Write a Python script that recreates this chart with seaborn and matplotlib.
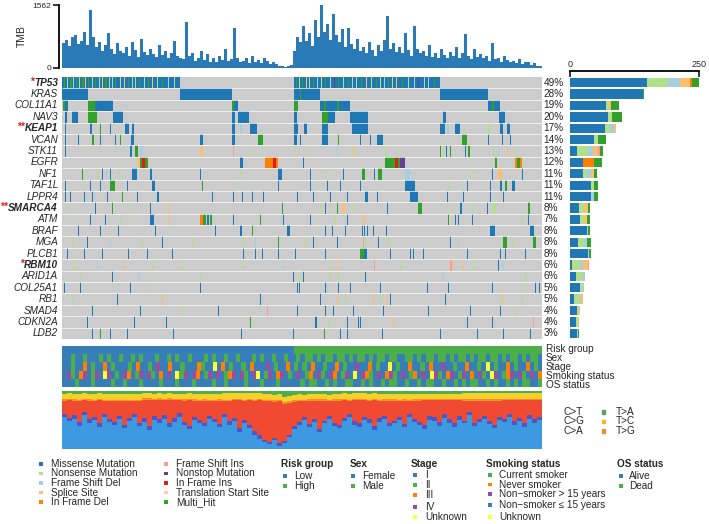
import numpy as np
import matplotlib
matplotlib.use('Agg')
import matplotlib.pyplot as plt
from matplotlib.colors import ListedColormap
from matplotlib.patches import Rectangle
import seaborn as sns

sns.set_theme(style='white')
plt.rcParams['font.family'] = ['Liberation Sans', 'DejaVu Sans']

N = 480  # displayed samples (one per column)

genes = ['TP53', 'KRAS', 'COL11A1', 'NAV3', 'KEAP1', 'VCAN', 'STK11', 'EGFR', 'NF1', 'TAF1L',
         'LPPR4', 'SMARCA4', 'ATM', 'BRAF', 'MGA', 'PLCB1', 'RBM10', 'ARID1A', 'COL25A1',
         'RB1', 'SMAD4', 'CDKN2A', 'LDB2']
pct_labels = ['49%', '28%', '19%', '20%', '17%', '14%', '13%', '12%', '11%', '11%', '11%', '8%',
              '7%', '8%', '8%', '8%', '6%', '6%', '5%', '5%', '4%', '4%', '3%']
stars = {'TP53': '*', 'KEAP1': '**', 'SMARCA4': '**', 'RBM10': '*'}

vc_names = ['Missense Mutation', 'Nonsense Mutation', 'Frame Shift Del', 'Splice Site',
            'In Frame Del', 'Frame Shift Ins', 'Nonstop Mutation', 'In Frame Ins',
            'Translation Start Site', 'Multi_Hit']
vc_codes = ['M', 'N', 'D', 'S', 'I', 'F', 'T', 'R', 'L', 'H']
vc_colors = ['#1F78B4', '#B2DF8A', '#A6CEE3', '#FDBF6F', '#FF7F00', '#FB9A99', '#6A3D9A',
             '#E31A1C', '#FFC9B5', '#33A02C']

# counts per variant class (order of vc_codes) for the right bar chart
bar_counts = {
    'TP53':    [149, 41, 23, 19, 4, 0, 0, 0, 0, 14],
    'KRAS':    [141, 0, 0, 0, 0, 0, 0, 0, 0, 2],
    'COL11A1': [70, 6, 0, 3, 0, 0, 0, 0, 0, 16],
    'NAV3':    [74, 8, 0, 0, 0, 0, 0, 0, 0, 19],
    'KEAP1':   [68, 10, 8, 3, 0, 0, 0, 0, 0, 0],
    'VCAN':    [47, 8, 0, 0, 0, 0, 0, 0, 0, 15],
    'STK11':   [13, 22, 10, 9, 0, 4, 0, 0, 0, 6],
    'EGFR':    [25, 0, 0, 0, 22, 0, 0, 0, 0, 15],
    'NF1':     [25, 7, 8, 6, 0, 0, 0, 0, 0, 6],
    'TAF1L':   [41, 5, 0, 0, 0, 0, 0, 0, 0, 8],
    'LPPR4':   [41, 0, 5, 0, 0, 0, 0, 0, 0, 8],
    'SMARCA4': [17, 11, 0, 6, 0, 0, 0, 0, 0, 5],
    'ATM':     [19, 9, 0, 4, 0, 0, 0, 0, 0, 6],
    'BRAF':    [33, 0, 2, 0, 0, 0, 0, 0, 0, 4],
    'MGA':     [15, 12, 5, 0, 0, 0, 0, 0, 0, 8],
    'PLCB1':   [35, 0, 1, 0, 0, 0, 0, 0, 0, 5],
    'RBM10':   [4, 16, 6, 8, 0, 2, 0, 0, 0, 0],
    'ARID1A':  [12, 13, 4, 0, 0, 0, 0, 0, 0, 0],
    'COL25A1': [20, 5, 2, 0, 0, 0, 0, 0, 0, 0],
    'RB1':     [8, 11, 3, 4, 0, 0, 0, 0, 0, 0],
    'SMAD4':   [13, 5, 0, 2, 0, 0, 0, 0, 0, 0],
    'CDKN2A':  [12, 3, 0, 3, 0, 0, 0, 0, 0, 0],
    'LDB2':    [13, 0, 2, 0, 0, 0, 0, 0, 0, 2],
}

# mutation matrix: (start sample, end sample, variant class); later entries overwrite
mut = {
    'TP53': [(0, 118, 'M'), (232, 378, 'M'),
             (2, 3, 'H'), (5, 6, 'N'), (8, 10, 'H'), (11, 12, 'D'), (14, 15, 'H'), (17, 18, 'N'),
             (20, 22, 'H'), (23, 24, 'S'), (26, 27, 'H'), (30, 31, 'N'), (33, 34, 'H'),
             (37, 38, 'N'), (40, 41, 'S'), (43, 45, 'H'), (47, 48, 'N'), (50, 51, 'D'),
             (53, 54, 'H'), (58, 59, 'N'), (62, 63, 'S'), (66, 67, 'H'), (70, 71, 'D'),
             (73, 74, 'N'), (77, 78, 'H'), (82, 83, 'N'), (86, 87, 'H'), (90, 91, 'S'),
             (95, 96, 'N'), (100, 101, 'H'), (106, 107, 'D'), (112, 113, 'N'),
             (234, 235, 'H'), (237, 238, 'N'), (240, 241, 'H'), (244, 245, 'S'), (247, 248, 'N'),
             (251, 252, 'H'), (255, 256, 'D'), (259, 260, 'N'), (263, 264, 'H'), (268, 269, 'N'),
             (272, 273, 'T'), (276, 277, 'H'), (281, 282, 'N'), (286, 287, 'H'), (290, 291, 'D'),
             (294, 295, 'N'), (299, 300, 'H'), (304, 305, 'S'), (309, 310, 'N'), (314, 315, 'H'),
             (318, 319, 'N'), (322, 323, 'D'), (326, 327, 'H'), (330, 331, 'N'), (334, 335, 'S'),
             (340, 341, 'H'), (346, 347, 'N'), (352, 353, 'D'), (356, 357, 'T'), (362, 363, 'N'),
             (366, 367, 'D'), (372, 373, 'H')],
    'KRAS': [(0, 26, 'M'), (118, 170, 'M'), (232, 258, 'M'), (378, 426, 'M'), (238, 239, 'H')],
    'COL11A1': [(1, 3, 'H'), (3, 6, 'M'), (26, 33, 'H'), (33, 51, 'M'), (170, 172, 'H'),
                (172, 176, 'M'), (232, 236, 'H'), (258, 288, 'M'), (262, 264, 'H'),
                (275, 277, 'H'), (426, 438, 'M'), (430, 432, 'H')],
    'NAV3': [(3, 5, 'M'), (10, 16, 'M'), (26, 35, 'H'), (51, 61, 'M'), (170, 173, 'M'),
             (176, 187, 'M'), (232, 235, 'M'), (260, 266, 'H'), (266, 273, 'M'),
             (288, 306, 'M'), (381, 384, 'M'), (437, 443, 'M')],
    'KEAP1': [(3, 4, 'M'), (28, 30, 'M'), (38, 39, 'H'), (48, 49, 'M'), (63, 67, 'M'),
              (70, 72, 'M'), (170, 173, 'M'), (178, 180, 'D'), (188, 195, 'M'), (232, 236, 'M'),
              (242, 245, 'M'), (260, 266, 'M'), (290, 306, 'M'), (378, 383, 'M'), (385, 387, 'D'),
              (393, 398, 'M'), (426, 428, 'N'), (438, 441, 'M'), (445, 448, 'M')],
    'VCAN': [(3, 4, 'M'), (16, 17, 'M'), (30, 32, 'H'), (38, 39, 'M'), (53, 54, 'M'),
             (58, 59, 'H'), (69, 72, 'M'), (138, 141, 'M'), (170, 173, 'M'), (196, 201, 'H'),
             (232, 235, 'M'), (238, 239, 'M'), (260, 266, 'M'), (276, 277, 'H'), (298, 299, 'M'),
             (308, 309, 'M'), (315, 321, 'M'), (400, 405, 'H'), (426, 427, 'M'), (440, 441, 'M'),
             (448, 449, 'M')],
    'STK11': [(3, 4, 'M'), (68, 70, 'M'), (73, 76, 'H'), (78, 81, 'D'), (138, 141, 'S'),
              (171, 172, 'F'), (188, 189, 'N'), (200, 201, 'N'), (233, 234, 'N'), (245, 246, 'N'),
              (275, 276, 'D'), (290, 291, 'S'), (293, 294, 'N'), (323, 324, 'N'), (378, 379, 'H'),
              (381, 382, 'N'), (384, 385, 'M'), (388, 389, 'H'), (403, 404, 'M'), (406, 408, 'H'),
              (431, 432, 'N'), (436, 437, 'D'), (445, 446, 'S'), (453, 454, 'N')],
    'EGFR': [(76, 78, 'S'), (78, 80, 'H'), (80, 83, 'R'), (83, 86, 'H'), (178, 181, 'M'),
             (203, 211, 'I'), (211, 214, 'R'), (214, 216, 'I'), (241, 242, 'M'), (323, 333, 'H'),
             (333, 336, 'R'), (336, 338, 'H'), (338, 343, 'T'), (433, 435, 'H'), (453, 455, 'I'),
             (455, 458, 'H'), (458, 460, 'I')],
    'NF1': [(20, 21, 'H'), (35, 36, 'N'), (40, 41, 'M'), (44, 45, 'D'), (48, 49, 'M'),
            (57, 58, 'N'), (70, 75, 'M'), (88, 90, 'M'), (138, 139, 'M'), (178, 179, 'N'),
            (216, 220, 'M'), (248, 249, 'M'), (264, 265, 'N'), (281, 282, 'M'), (300, 303, 'H'),
            (312, 313, 'M'), (316, 320, 'H'), (343, 348, 'D'), (411, 412, 'N'), (430, 431, 'M'),
            (436, 440, 'S'), (460, 461, 'M')],
    'TAF1L': [(3, 4, 'M'), (28, 29, 'M'), (38, 39, 'M'), (48, 53, 'H'), (65, 66, 'M'),
              (90, 93, 'M'), (140, 141, 'H'), (173, 174, 'N'), (216, 217, 'M'), (248, 249, 'M'),
              (265, 266, 'M'), (278, 279, 'M'), (298, 299, 'M'), (343, 353, 'M'), (386, 387, 'N'),
              (405, 406, 'M'), (428, 429, 'M'), (438, 440, 'M'), (443, 445, 'H'), (450, 453, 'M')],
    'LPPR4': [(3, 4, 'M'), (8, 9, 'M'), (22, 23, 'M'), (30, 31, 'M'), (45, 46, 'M'),
              (60, 61, 'H'), (75, 76, 'M'), (95, 97, 'M'), (150, 151, 'M'), (171, 172, 'M'),
              (180, 181, 'M'), (190, 191, 'M'), (201, 202, 'M'), (235, 236, 'M'), (251, 252, 'M'),
              (268, 269, 'M'), (285, 286, 'M'), (303, 306, 'M'), (315, 316, 'M'), (348, 356, 'M'),
              (385, 386, 'M'), (401, 402, 'M'), (428, 429, 'M'), (441, 442, 'M')],
    'SMARCA4': [(8, 9, 'N'), (33, 34, 'M'), (50, 51, 'H'), (68, 69, 'N'), (88, 89, 'M'),
                (106, 107, 'S'), (220, 221, 'H'), (258, 259, 'N'), (263, 264, 'M'),
                (275, 276, 'H'), (280, 283, 'S'), (293, 294, 'N'), (325, 326, 'M'),
                (356, 360, 'H'), (391, 392, 'N'), (398, 400, 'M'), (410, 411, 'N'),
                (425, 426, 'M'), (431, 434, 'N'), (466, 468, 'H')],
    'ATM': [(28, 29, 'M'), (43, 44, 'M'), (58, 59, 'N'), (88, 92, 'M'), (106, 107, 'S'),
            (138, 141, 'I'), (141, 144, 'H'), (145, 147, 'M'), (148, 150, 'H'), (171, 172, 'M'),
            (198, 199, 'H'), (221, 222, 'M'), (248, 249, 'M'), (273, 274, 'N'), (285, 286, 'M'),
            (301, 303, 'S'), (386, 387, 'H'), (393, 394, 'M'), (396, 397, 'M'), (410, 411, 'M'),
            (460, 461, 'N'), (466, 467, 'M')],
    'BRAF': [(16, 17, 'M'), (38, 39, 'M'), (56, 57, 'M'), (93, 94, 'M'), (153, 154, 'M'),
             (178, 180, 'M'), (190, 191, 'H'), (225, 228, 'M'), (263, 264, 'M'), (270, 271, 'M'),
             (283, 284, 'M'), (300, 301, 'M'), (302, 303, 'M'), (305, 306, 'M'), (311, 312, 'M'),
             (324, 325, 'M'), (428, 433, 'M'), (468, 472, 'M')],
    'MGA': [(10, 11, 'N'), (25, 26, 'M'), (48, 49, 'D'), (80, 81, 'N'), (100, 101, 'M'),
            (130, 131, 'N'), (181, 182, 'N'), (193, 194, 'D'), (216, 217, 'H'), (243, 244, 'N'),
            (251, 252, 'M'), (275, 276, 'M'), (301, 302, 'F'), (303, 304, 'N'), (316, 317, 'M'),
            (326, 327, 'N'), (388, 389, 'M'), (396, 397, 'N'), (441, 445, 'H'), (450, 451, 'N'),
            (471, 474, 'H')],
    'PLCB1': [(5, 6, 'M'), (22, 23, 'M'), (40, 41, 'M'), (66, 67, 'M'), (85, 86, 'M'),
              (110, 111, 'M'), (181, 182, 'M'), (193, 194, 'M'), (200, 201, 'M'), (216, 217, 'M'),
              (233, 234, 'M'), (263, 264, 'M'), (298, 302, 'H'), (302, 305, 'M'), (328, 329, 'M'),
              (348, 349, 'M'), (351, 352, 'M'), (361, 362, 'M'), (405, 406, 'M'), (438, 439, 'M'),
              (443, 444, 'M'), (463, 464, 'M')],
    'RBM10': [(12, 13, 'N'), (35, 36, 'D'), (62, 63, 'S'), (90, 91, 'N'), (120, 121, 'N'),
              (181, 182, 'N'), (221, 222, 'D'), (268, 269, 'N'), (275, 276, 'S'), (312, 313, 'F'),
              (338, 339, 'N'), (388, 390, 'F'), (390, 391, 'S'), (401, 402, 'S'), (411, 412, 'N'),
              (436, 437, 'M'), (441, 442, 'D')],
    'ARID1A': [(18, 19, 'N'), (50, 51, 'M'), (76, 77, 'D'), (138, 139, 'N'), (231, 232, 'M'),
               (238, 239, 'N'), (241, 242, 'M'), (268, 269, 'N'), (276, 277, 'N'), (303, 304, 'M'),
               (380, 381, 'D'), (463, 464, 'N')],
    'COL25A1': [(2, 3, 'M'), (18, 19, 'M'), (68, 69, 'M'), (88, 89, 'N'), (138, 139, 'M'),
                (235, 236, 'M'), (237, 238, 'M'), (263, 264, 'M'), (265, 266, 'D'),
                (276, 277, 'M'), (288, 289, 'M'), (318, 319, 'M'), (365, 366, 'M'),
                (386, 387, 'M'), (430, 431, 'M'), (463, 464, 'N'), (473, 474, 'M'),
                (477, 478, 'M')],
    'RB1': [(10, 11, 'N'), (55, 56, 'M'), (100, 101, 'S'), (198, 199, 'M'), (258, 259, 'M'),
            (275, 276, 'S'), (283, 284, 'N'), (311, 312, 'S'), (318, 319, 'N'), (325, 326, 'S'),
            (328, 329, 'M'), (383, 384, 'M'), (438, 439, 'N'), (440, 441, 'S'), (460, 461, 'N')],
    'SMAD4': [(30, 31, 'M'), (78, 79, 'M'), (120, 121, 'N'), (156, 157, 'M'), (205, 206, 'F'),
              (235, 236, 'M'), (263, 264, 'M'), (271, 272, 'M'), (291, 292, 'M'), (321, 322, 'M'),
              (366, 367, 'M'), (408, 409, 'M'), (438, 439, 'M'), (453, 454, 'N')],
    'CDKN2A': [(25, 26, 'M'), (72, 73, 'M'), (104, 105, 'M'), (188, 189, 'H'), (253, 255, 'M'),
               (266, 267, 'N'), (285, 286, 'M'), (296, 297, 'M'), (298, 299, 'M'), (331, 332, 'S'),
               (405, 406, 'M'), (430, 431, 'M'), (471, 472, 'F')],
    'LDB2': [(30, 31, 'M'), (38, 39, 'H'), (48, 49, 'M'), (65, 66, 'M'), (111, 112, 'M'),
             (179, 180, 'M'), (231, 232, 'M'), (262, 263, 'H'), (278, 279, 'M'), (285, 286, 'M'),
             (320, 321, 'M'), (378, 379, 'M'), (415, 416, 'M'), (441, 442, 'M'), (468, 469, 'M')],
}

# TMB, one value per 3 consecutive samples
tmb = [620, 700, 540, 760, 820, 600, 680, 900, 560, 1450,
       780, 520, 640, 430, 560, 880, 480, 350, 620, 420,
       380, 520, 300, 640, 450, 280, 720, 400, 330, 480,
       350, 270, 560, 310, 420, 260, 380, 680, 300, 260,
       220, 1150, 300, 380, 180, 250, 420, 200, 340, 160,
       240, 150, 300, 200, 460, 180, 220, 980, 260, 140,
       180, 240, 120, 300, 160, 210, 130, 250, 170, 110,
       140, 90, 60, 40, 30, 50, 70, 420, 780, 640,
       1050, 680, 880, 540, 1200, 760, 1560, 900, 1100, 700,
       1350, 820, 640, 960, 520, 1000, 600, 480, 720, 420,
       520, 380, 640, 450, 300, 560, 420, 700, 1300, 480,
       620, 400, 520, 360, 880, 440, 300, 1050, 480, 360,
       420, 300, 560, 280, 380, 240, 460, 320, 260, 400,
       300, 520, 260, 380, 840, 300, 220, 460, 280, 340,
       240, 300, 180, 620, 220, 260, 160, 300, 200, 140,
       180, 120, 220, 100, 160, 140, 80, 120, 60, 40]
tmb_max = 1562

# clinical annotations (each character covers 4 samples)
risk_groups = ['Low', 'High']
risk_sizes = [232, 248]
sex = ("FFMFFMFFFMFMFFMFFMFMFFFMFFMFMFFMFFFMFMFFMFFMFFFMFMFFMFFMFF"
       "MFMMFMFMMFMMFMFMMFMFMMFMMFFMMFMFMMFMMFMFMMFMFMMFMMFMFMMFMFMMF")
stage = ("1121131211312111213112141131121113211U1312112131114121131"
         "21213112113121141131211U12113112131141121131121U1211312113121")
smoking = ("BPCBNPBCPBUPBCBPNBCPBPCBNBPBUCPBPNBCPBPBCNPBPCBPUBCPBNPBCB"
           "PBCNBPCBPNBCPBUBPNCBPBNPCBPBCNBPBUPCBNPBCPBNBPCBUPBCNPBPCBPBN")
os_status = ("AAADAAADAAAADAADAAADAAAADAAADAAADAAAADAADAAAADAAADAAADAAAA"
             "ADADDAADADAADDAADADAADADDAADAADADDAADAADADADDAADADAADADADDAAD")

# transitions / transversions fractions (each value covers 5 samples)
titv_ca = [0.55, 0.48, 0.52, 0.40, 0.58, 0.45, 0.50, 0.38, 0.55, 0.47,
           0.42, 0.52, 0.36, 0.48, 0.55, 0.40, 0.46, 0.33, 0.50, 0.44,
           0.52, 0.38, 0.47, 0.55, 0.42, 0.35, 0.50, 0.45, 0.40, 0.52,
           0.46, 0.38, 0.55, 0.42, 0.48, 0.30, 0.44, 0.36, 0.25, 0.18,
           0.12, 0.08, 0.15, 0.06, 0.10, 0.20,
           0.35, 0.42, 0.50, 0.38, 0.46, 0.30, 0.44, 0.52, 0.40, 0.36,
           0.48, 0.55, 0.42, 0.38, 0.50, 0.45, 0.33, 0.47, 0.52, 0.40,
           0.44, 0.50, 0.38, 0.55, 0.46, 0.42, 0.35, 0.50, 0.48, 0.40,
           0.53, 0.45, 0.38, 0.50, 0.44, 0.58, 0.40, 0.47, 0.52, 0.43,
           0.36, 0.50, 0.46, 0.55, 0.42, 0.48, 0.38, 0.52, 0.45, 0.50]
titv_ct = [0.22, 0.30, 0.25, 0.36, 0.20, 0.32, 0.26, 0.40, 0.22, 0.30,
           0.35, 0.25, 0.42, 0.30, 0.22, 0.38, 0.32, 0.45, 0.27, 0.34,
           0.25, 0.40, 0.30, 0.22, 0.36, 0.44, 0.28, 0.32, 0.38, 0.25,
           0.31, 0.40, 0.22, 0.35, 0.30, 0.48, 0.33, 0.42, 0.52, 0.60,
           0.66, 0.70, 0.62, 0.72, 0.64, 0.55,
           0.42, 0.36, 0.27, 0.40, 0.32, 0.48, 0.34, 0.25, 0.38, 0.42,
           0.30, 0.22, 0.36, 0.40, 0.28, 0.32, 0.45, 0.30, 0.26, 0.38,
           0.34, 0.27, 0.40, 0.22, 0.32, 0.36, 0.43, 0.28, 0.30, 0.38,
           0.24, 0.33, 0.40, 0.28, 0.34, 0.20, 0.38, 0.31, 0.26, 0.35,
           0.42, 0.28, 0.32, 0.23, 0.36, 0.30, 0.40, 0.26, 0.33, 0.28]
titv_cg = [0.06, 0.05, 0.07, 0.05, 0.06, 0.04, 0.05, 0.06, 0.05, 0.07, 0.05, 0.06]
titv_tg = [0.03, 0.02, 0.03, 0.03, 0.02, 0.03, 0.03, 0.02, 0.03, 0.02, 0.03, 0.03]
titv_tc = [0.09, 0.10, 0.08, 0.09, 0.11, 0.09, 0.08, 0.10, 0.09, 0.08, 0.10, 0.09]
titv_colors = {'C>A': '#3E9AE0', 'C>G': '#4B57C9', 'C>T': '#F04B32',
               'T>G': '#F39323', 'T>C': '#F6CF2C', 'T>A': '#4DAF4A'}

annot_colors = ['#377EB8', '#4DAF4A', '#FF7F00', '#984EA3', '#FFFF33']

# ---------------------------------------------------------------- layout helpers
W, H = 709, 524
fig = plt.figure(figsize=(W / 100, H / 100), dpi=100)
fig.patch.set_facecolor('white')


def add_ax(x0, y0, x1, y1):
    return fig.add_axes([x0 / W, 1 - y1 / H, (x1 - x0) / W, (y1 - y0) / H])


def spread(s, n=N):
    s = list(s)
    idx = np.arange(n) * len(s) // n
    return [s[i] for i in idx]


ax_tmb = add_ax(62, 5, 542, 68)
ax_mat = add_ax(62, 77, 542, 339)
ax_bar = add_ax(570, 77, 699, 339)
ax_ann = add_ax(62, 346, 542, 387)
ax_titv = add_ax(62, 391, 542, 449)
ov = add_ax(0, 0, W, H)
ov.set_xlim(0, W)
ov.set_ylim(H, 0)
ov.axis('off')
ov.patch.set_alpha(0)

# ---------------------------------------------------------------- TMB
x_tmb = np.arange(len(tmb)) * (N / len(tmb))
ax_tmb.bar(x_tmb, tmb, width=N / len(tmb), align='edge', color='#2A7AB8', linewidth=0)
ax_tmb.set_xlim(0, N)
ax_tmb.set_ylim(0, tmb_max)
ax_tmb.set_xticks([])
ax_tmb.set_yticks([0, tmb_max])
ax_tmb.set_yticklabels(['0', str(tmb_max)])
for sp in ['top', 'right', 'bottom']:
    ax_tmb.spines[sp].set_visible(False)
ax_tmb.spines['left'].set_position(('outward', 2))
ax_tmb.spines['left'].set_linewidth(1.3)
ax_tmb.spines['left'].set_color('black')
ax_tmb.tick_params(axis='y', direction='out', length=4, width=1.3, pad=1.5, left=True,
                   labelsize=6)
ax_tmb.set_ylabel('TMB', fontsize=7.5, labelpad=4)
ax_tmb.patch.set_alpha(0)

# ---------------------------------------------------------------- oncoprint matrix
code_idx = {c: i + 1 for i, c in enumerate(vc_codes)}
mat = np.zeros((len(genes), N), dtype=int)
for gi, g in enumerate(genes):
    for s, e, c in mut[g]:
        mat[gi, s:e] = code_idx[c]

sns.heatmap(mat, ax=ax_mat, cmap=ListedColormap(['#CCCCCC'] + vc_colors),
            vmin=-0.5, vmax=len(vc_codes) + 0.5, cbar=False,
            xticklabels=False, yticklabels=False)
ax_mat.hlines(np.arange(1, len(genes)), 0, N, colors='white', linewidth=0.5)
ax_mat.set_xlim(0, N)
ax_mat.set_ylim(len(genes), 0)

# gene labels, percentages
row_h = (339 - 77) / len(genes)
for gi, g in enumerate(genes):
    y = 77 + (gi + 0.5) * row_h
    bold = g in stars
    t = ov.text(58, y, g, ha='right', va='center', fontsize=7.2, fontstyle='italic',
                fontweight='bold' if bold else 'normal')
    if bold:
        ov.annotate(stars[g], xy=(0, 0.62), xycoords=t, ha='right', va='center',
                    color='#E0201B', fontsize=7.5, fontweight='bold')
    ov.text(543.5, y, pct_labels[gi], ha='left', va='center', fontsize=7.2)

# ---------------------------------------------------------------- right bar chart
counts = np.array([bar_counts[g] for g in genes], dtype=float)
left = np.zeros(len(genes))
ypos = np.arange(len(genes)) + 0.5
for k in range(len(vc_codes)):
    ax_bar.barh(ypos, counts[:, k], left=left, height=0.82, color=vc_colors[k], linewidth=0)
    left += counts[:, k]
ax_bar.set_xlim(0, 250)
ax_bar.set_ylim(len(genes), 0)
ax_bar.xaxis.tick_top()
ax_bar.set_xticks([0, 250])
ax_bar.set_xticklabels(['0', '250'])
ax_bar.set_yticks([])
for sp in ['left', 'right', 'bottom']:
    ax_bar.spines[sp].set_visible(False)
ax_bar.spines['top'].set_position(('outward', 4))
ax_bar.spines['top'].set_linewidth(1.3)
ax_bar.spines['top'].set_color('black')
ax_bar.tick_params(axis='x', direction='in', length=4, width=1.3, pad=2, top=True,
                   labelsize=6.5)
ax_bar.patch.set_alpha(0)

# ---------------------------------------------------------------- clinical annotation
risk_col = np.repeat([0, 1], risk_sizes)
sex_col = [{'F': 0, 'M': 1}[c] for c in spread(sex)]
stage_col = [{'1': 0, '2': 1, '3': 2, '4': 3, 'U': 4}[c] for c in spread(stage)]
smk_col = [{'C': 1, 'N': 2, 'P': 3, 'B': 0, 'U': 4}[c] for c in spread(smoking)]
os_col = [{'A': 0, 'D': 1}[c] for c in spread(os_status)]
ann = np.array([risk_col, sex_col, stage_col, smk_col, os_col])
sns.heatmap(ann, ax=ax_ann, cmap=ListedColormap(annot_colors), vmin=-0.5, vmax=4.5,
            cbar=False, xticklabels=False, yticklabels=False)
ax_ann.set_xlim(0, N)
ann_labels = ['Risk group', 'Sex', 'Stage', 'Smoking status', 'OS status']
for i, lab in enumerate(ann_labels):
    ov.text(546, 349 + i * 9, lab, ha='left', va='center', fontsize=7.2)

# ---------------------------------------------------------------- TiTv
nb = len(titv_ca)
ca = np.array(titv_ca)
ct = np.array(titv_ct)
cg = np.array(spread(titv_cg, nb))
tg = np.array(spread(titv_tg, nb))
tc = np.array(spread(titv_tc, nb))
ta = np.clip(1 - (ca + ct + cg + tg + tc), 0, None)
xb = np.arange(nb) * (N / nb)
bottom = np.zeros(nb)
for key, vals in [('C>A', ca), ('C>G', cg), ('C>T', ct), ('T>G', tg), ('T>C', tc), ('T>A', ta)]:
    ax_titv.bar(xb, vals, bottom=bottom, width=N / nb, align='edge',
                color=titv_colors[key], linewidth=0)
    bottom += vals
ax_titv.set_xlim(0, N)
ax_titv.set_ylim(0, 1)
ax_titv.axis('off')

for i, lab in enumerate(['C>T', 'C>G', 'C>A']):
    ov.text(563, 412 + i * 9.5, lab, ha='left', va='center', fontsize=7.2)
for i, lab in enumerate(['T>A', 'T>C', 'T>G']):
    ov.add_patch(Rectangle((601.5, 410.2 + i * 9.5), 3.6, 3.6,
                           color={'T>A': '#5E9E5E', 'T>C': '#F5B82E', 'T>G': '#E8913A'}[lab]))
    ov.text(616, 412 + i * 9.5, lab, ha='left', va='center', fontsize=7.2)

# ---------------------------------------------------------------- bottom legends
def sq(x, y, col):
    ov.add_patch(Rectangle((x - 1.8, y - 1.8), 3.6, 3.6, color=col, linewidth=0))


fs = 7.2
ys5 = [464, 473.5, 483, 492.5, 502]
for i in range(5):
    sq(41, ys5[i], vc_colors[i])
    ov.text(51, ys5[i], vc_names[i], ha='left', va='center', fontsize=fs)
    sq(166, ys5[i], vc_colors[i + 5])
    ov.text(176, ys5[i], vc_names[i + 5], ha='left', va='center', fontsize=fs)

groups = [
    ('Risk group', 281, 285, 294, ['Low', 'High'], [0, 1], [476, 486]),
    ('Sex', 350, 353, 362, ['Female', 'Male'], [0, 1], [476, 486]),
    ('Stage', 411, 415, 425, ['I', 'II', 'III', 'IV', 'Unknown'], [0, 1, 2, 3, 4],
     [475, 485, 495, 507, 517]),
    ('Smoking status', 486, 490, 499,
     ['Current smoker', 'Never smoker', 'Non\u2212smoker > 15 years',
      'Non\u2212smoker \u2264 15 years', 'Unknown'], [1, 2, 3, 0, 4],
     [475, 484.5, 494, 505, 517]),
    ('OS status', 617, 621, 629, ['Alive', 'Dead'], [0, 1], [476, 486]),
]
for title, tx, mx, lx, labs, cols, ys in groups:
    ov.text(tx, 464, title, ha='left', va='center', fontsize=fs, fontweight='bold')
    for lab, ci, yy in zip(labs, cols, ys):
        sq(mx, yy, annot_colors[ci])
        ov.text(lx, yy, lab, ha='left', va='center', fontsize=fs)

fig.savefig('out.png', dpi=100, facecolor='white')
